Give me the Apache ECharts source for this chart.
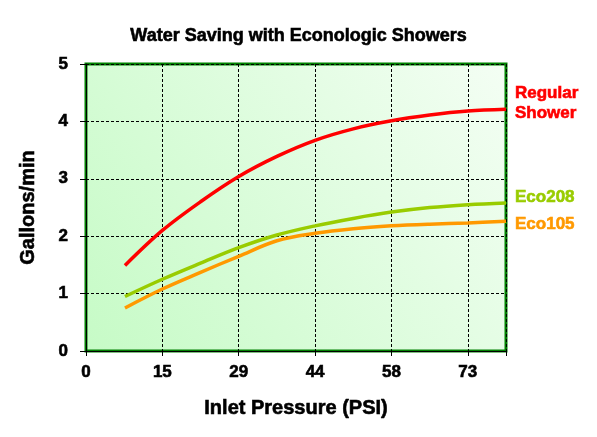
<!DOCTYPE html>
<html><head><meta charset="utf-8">
<script src="https://cdn.jsdelivr.net/npm/echarts@6/dist/echarts.min.js"></script>
<style>html,body{margin:0;padding:0;background:#fff}#c{width:597px;height:437px}</style>
</head><body><div id="c"></div>
<script>
const xTickLabels = ['0','15','29','44','58','73'];
const pressure = [7.4, 14.5, 21.75, 29, 36.25, 43.5, 50.75, 58, 65.25, 72.5, 79.75];
const regular = [1.49, 2.10, 2.60, 3.04, 3.39, 3.67, 3.87, 4.01, 4.11, 4.18, 4.21];
const eco208  = [0.95, 1.25, 1.53, 1.80, 2.02, 2.18, 2.31, 2.42, 2.50, 2.55, 2.58];
const eco105  = [0.75, 1.08, 1.37, 1.65, 1.92, 2.05, 2.13, 2.18, 2.21, 2.23, 2.26];
const names = ['Regular\nShower', 'Eco208', 'Eco105'];
const colors = ['#ff0000', '#99cc00', '#ff9900'];

const font = 'Liberation Sans, Arial, sans-serif';
const chart = echarts.init(document.getElementById('c'));
function ts(size, color){
  return {fontFamily:font, fontWeight:'bold', fontSize:size, color:color||'#000', textBorderColor:color||'#000', textBorderWidth:0.6};
}
function mk(i, vals, off){
  return {
    type:'line', name:names[i], smooth:0.35, showSymbol:false, symbol:'none',
    data: pressure.map((p,k)=>[p, vals[k]]),
    lineStyle:{color:colors[i], width:3.5},
    itemStyle:{color:colors[i]},
    endLabel:Object.assign({show:true, formatter:names[i], lineHeight:20, offset:off, distance:9}, ts(17, colors[i])),
    z:5
  };
}
chart.setOption({
  animation:false,
  title:{text:'Water Saving with Econologic Showers', left:'center', top:22,
    textStyle:ts(18)},
  grid:{left:86, right:91, top:64, bottom:86, show:true, borderColor:'#008000', borderWidth:3,
    backgroundColor:new echarts.graphic.LinearGradient(0,1,1,0,[{offset:0,color:'#c6fbc6'},{offset:1,color:'#f4fef4'}])},
  xAxis:{type:'value', min:0, max:79.75, interval:14.5,
    name:'Inlet Pressure (PSI)', nameLocation:'middle', nameGap:47,
    nameTextStyle:ts(20),
    axisLine:{show:true, lineStyle:{color:'#000', width:1}},
    axisTick:{show:true, length:5, inside:false, lineStyle:{color:'#000'}},
    axisLabel:Object.assign({formatter:(v)=>{const i=Math.round(v/14.5);return i<xTickLabels.length && Math.abs(v-i*14.5)<0.01?xTickLabels[i]:'';},
      margin:13}, ts(17)),
    splitLine:{show:true, lineStyle:{color:'#000', type:[3,2], width:1}}},
  yAxis:{type:'value', min:0, max:5, interval:1,
    name:'Gallons/min', nameLocation:'middle', nameGap:48,
    nameTextStyle:ts(20),
    axisLine:{show:true, lineStyle:{color:'#000', width:1}},
    axisTick:{show:true, length:6, lineStyle:{color:'#000'}},
    axisLabel:Object.assign({margin:18}, ts(17)),
    splitLine:{show:true, lineStyle:{color:'#000', type:[3,2], width:1}}},
  series:[mk(0, regular, [0,-6]), mk(1, eco208, [0,-6]), mk(2, eco105, [0,3])]
});
</script></body></html>
